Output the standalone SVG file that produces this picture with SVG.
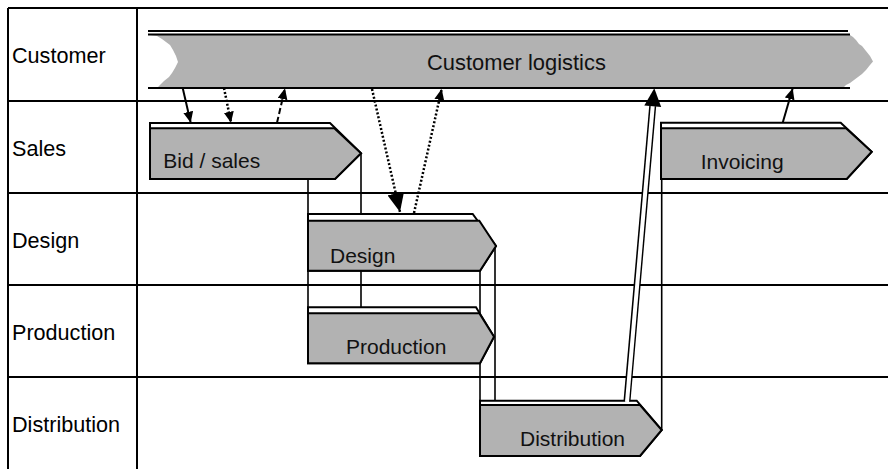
<svg xmlns="http://www.w3.org/2000/svg" width="888" height="469" viewBox="0 0 888 469">
<style>
.grid{stroke:#000;stroke-width:2;fill:none}
.lane{font-family:"Liberation Sans",Arial,sans-serif;font-size:21.6px;fill:#000}
.lbl{font-family:"Liberation Sans",Arial,sans-serif;font-size:21px;fill:#111}
.back{fill:#fff;stroke:#000;stroke-width:2;stroke-linejoin:miter}
.front{fill:#b2b2b2;stroke:#000;stroke-width:2;stroke-linejoin:miter}
.conn{stroke:#000;stroke-width:1.6;fill:none}
.solid{stroke:#000;stroke-width:2;fill:none}
.dot{stroke:#000;stroke-width:2.5;fill:none;stroke-dasharray:2 2}
.dash{stroke:#000;stroke-width:2;fill:none;stroke-dasharray:6 3}
</style>
<defs>
<marker id="ah" viewBox="0 0 11 10" refX="11" refY="5" markerWidth="11" markerHeight="10" markerUnits="userSpaceOnUse" orient="auto">
<path d="M0,0 L11,5 L0,10 z" fill="#000"/>
</marker>
<marker id="ahL" viewBox="0 0 19 17" refX="19" refY="8.5" markerWidth="19" markerHeight="17" markerUnits="userSpaceOnUse" orient="auto">
<path d="M0,0 L19,8.5 L0,17 z" fill="#000"/>
</marker>
</defs>
<rect width="888" height="469" fill="#fff"/>
<g id="table">
<line class="grid" x1="8" y1="8" x2="888" y2="8"/>
<line class="grid" x1="8" y1="101" x2="888" y2="101"/>
<line class="grid" x1="8" y1="193" x2="888" y2="193"/>
<line class="grid" x1="8" y1="285" x2="888" y2="285"/>
<line class="grid" x1="8" y1="377" x2="888" y2="377"/>
<line class="grid" x1="8" y1="8" x2="8" y2="469"/>
<line class="grid" x1="137" y1="8" x2="137" y2="469"/>
<text class="lane" x="12" y="62.5">Customer</text>
<text class="lane" x="12" y="156">Sales</text>
<text class="lane" x="12" y="248">Design</text>
<text class="lane" x="12" y="340">Production</text>
<text class="lane" x="12" y="432">Distribution</text>
</g>
<g id="customer-logistics">
<path d="M150,35 L850,35 L853,37 L856,40 L859,44 L862,46 L866,51 L870,56 L873,61.5 L870,65 L866,70 L862,74 L858,77 L854,80 L850,83 L846,85 L843,88 L157,88 L160,85 L164,81 L169,77 L172,73 L175,68 L178,62 L176,56 L173,50 L170,45 L166,42 L162,39 L157,36 Z" fill="#b2b2b2"/>
<line x1="148" y1="31" x2="848" y2="31" stroke="#000" stroke-width="2"/>
<line x1="148" y1="34.5" x2="850" y2="34.5" stroke="#000" stroke-width="2"/>
<line x1="148" y1="88" x2="850" y2="88" stroke="#000" stroke-width="2"/>
<text class="lbl" x="427" y="70" style="font-size:21.9px">Customer logistics</text>
</g>
<g id="connectors">
<line class="conn" x1="308" y1="179" x2="308" y2="363"/>
<line class="conn" x1="361" y1="153" x2="361" y2="307"/>
<line class="conn" x1="495" y1="246" x2="495" y2="400"/>
<line class="conn" x1="480" y1="270" x2="480" y2="456"/>
<line class="conn" x1="661.7" y1="430" x2="661.7" y2="123"/>
</g>
<g id="bid-sales">
<polygon class="back" points="150,123 330,123 361,153.3 335,179 150,179"/>
<polygon class="front" points="150,128.3 334.3,128.3 361,153.3 335,179 150,179"/>
<text class="lbl" x="163.3" y="167.7">Bid / sales</text>
</g>
<g id="invoicing">
<polygon class="back" points="661,122.7 840.7,122.7 871.7,151.7 846.7,179 661,179"/>
<polygon class="front" points="661,128.3 846,128.3 871.7,151.7 846.7,179 661,179"/>
<text class="lbl" x="700.7" y="169.3">Invoicing</text>
</g>
<g id="design">
<polygon class="back" points="308,214 472.7,214 496,246 480,270.7 308,270.7"/>
<polygon class="front" points="308,220.7 479.3,220.7 496,246 480,270.7 308,270.7"/>
<text class="lbl" x="330" y="262.7">Design</text>
</g>
<g id="production">
<polygon class="back" points="308,307.3 476,307.3 494,336.7 480,363.3 308,363.3"/>
<polygon class="front" points="308,313.3 479.3,313.3 494,336.7 480,363.3 308,363.3"/>
<text class="lbl" x="346" y="354">Production</text>
</g>
<g id="distribution">
<polygon class="back" points="480,400.7 636.7,400.7 661.7,430 640,456 480,456"/>
<polygon class="front" points="480,405 640,405 661.7,430 640,456 480,456"/>
<text class="lbl" x="520" y="446">Distribution</text>
</g>
<g id="arrows">
<line class="solid" x1="182.7" y1="88" x2="190.7" y2="122.7" marker-end="url(#ah)"/>
<line class="dot" x1="224" y1="88" x2="231" y2="122.7" marker-end="url(#ah)"/>
<line class="dash" x1="277" y1="122.7" x2="285" y2="88.3" marker-end="url(#ah)"/>
<line class="dot" x1="372" y1="89" x2="400" y2="212" marker-end="url(#ahL)"/>
<line class="dot" x1="414" y1="213" x2="441.7" y2="89" marker-end="url(#ah)"/>
<line class="solid" x1="782.7" y1="122.7" x2="792.7" y2="88.3" marker-end="url(#ah)"/>
<line x1="627" y1="401" x2="652.7" y2="106" stroke="#000" stroke-width="7"/>
<line x1="627" y1="402" x2="652.9" y2="104" stroke="#fff" stroke-width="4"/>
<polygon points="654.3,88.3 661.2,107 644.3,105.5" fill="#000"/>
</g>
</svg>
